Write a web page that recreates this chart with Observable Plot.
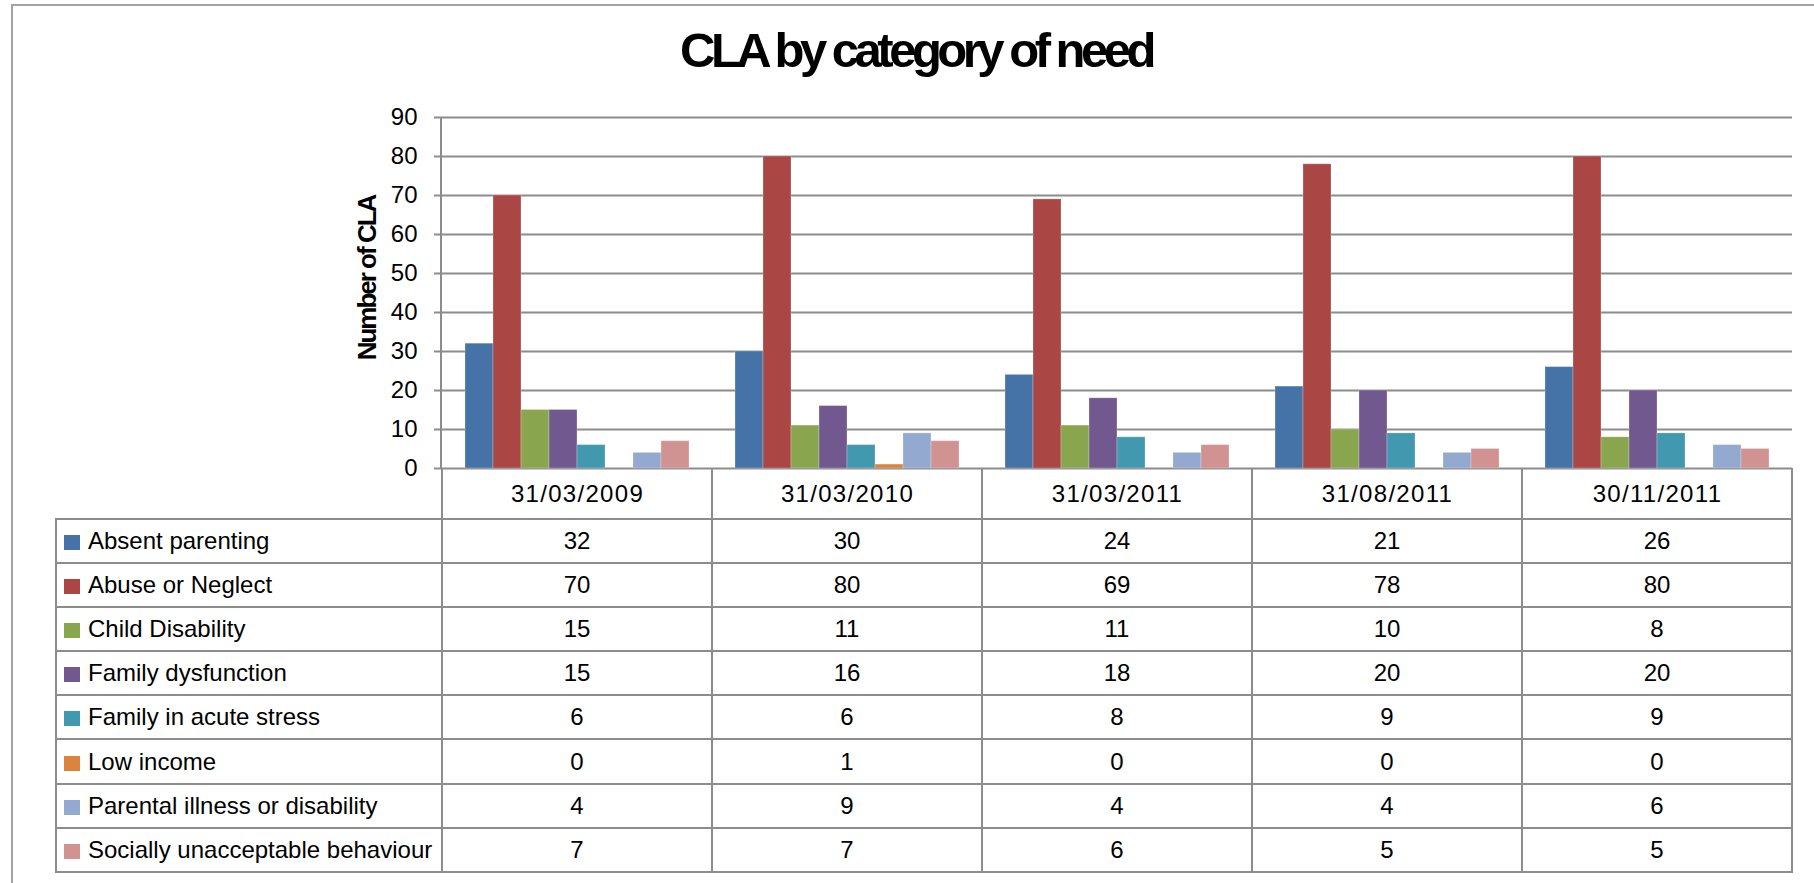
<!DOCTYPE html>
<html>
<head>
<meta charset="utf-8">
<script src="https://cdn.jsdelivr.net/npm/d3@7"></script>
<script src="https://cdn.jsdelivr.net/npm/@observablehq/plot@0.6"></script>
<style>
  html, body { margin: 0; padding: 0; background: #fff; }
  body { width: 1814px; height: 883px; position: relative; overflow: hidden; font-family: "Liberation Sans", Arial, sans-serif; color: #000; }
  #frame { position: absolute; left: 11px; top: 4px; width: 1830px; height: 900px; border-left: 2px solid #a3a3a3; border-top: 2px solid #a3a3a3; }
  #title { position: absolute; left: 0; top: 20px; width: 1832px; text-align: center; font-weight: bold; font-size: 49px; letter-spacing: -4.5px; line-height: 60px; }
  #chart { position: absolute; left: 0; top: 0; }
  #chart g[aria-label="fx-axis tick label"] text { letter-spacing: 1.3px; }
  #ylabel { position: absolute; left: 367px; top: 278px; transform: translate(-50%, -50%) rotate(-90deg); font-weight: bold; font-size: 26px; letter-spacing: -2px; white-space: nowrap; line-height: 26px; }
  #yaxisline { position: absolute; left: 440px; top: 117px; width: 2px; height: 352px; background: #8c8c8c; }
  #datatable { position: absolute; left: 55px; top: 468px; border-collapse: collapse; table-layout: fixed; font-size: 24px; }
  #datatable td { border: 2px solid #8c8c8c; padding: 0; height: 42.2px; text-align: center; white-space: nowrap; overflow: hidden; }
  #datatable tr.head td { height: 49.5px; border-top: none; }
  #datatable tr.head td.blank { border-left: none; }
  #datatable td.lab { text-align: left; padding-left: 7px; }
  .sw { display: inline-block; width: 16px; height: 15px; margin-right: 8px; vertical-align: -1px; }
</style>
</head>
<body>
<div id="frame"></div>
<div id="title">CLA by category of need</div>
<div id="chart"></div>
<div id="yaxisline"></div>
<div id="ylabel">Number of CLA</div>
<table id="datatable"></table>
<script>
// ---- data ----
const dates = ["31/03/2009", "31/03/2010", "31/03/2011", "31/08/2011", "30/11/2011"];
const categories = [
  "Absent parenting",
  "Abuse or Neglect",
  "Child Disability",
  "Family dysfunction",
  "Family in acute stress",
  "Low income",
  "Parental illness or disability",
  "Socially unacceptable behaviour"
];
const absentParenting       = [32, 30, 24, 21, 26];
const abuseOrNeglect        = [70, 80, 69, 78, 80];
const childDisability       = [15, 11, 11, 10, 8];
const familyDysfunction     = [15, 16, 18, 20, 20];
const familyInAcuteStress   = [6, 6, 8, 9, 9];
const lowIncome             = [0, 1, 0, 0, 0];
const parentalIllness       = [4, 9, 4, 4, 6];
const sociallyUnacceptable  = [7, 7, 6, 5, 5];
const yTicks = [0, 10, 20, 30, 40, 50, 60, 70, 80, 90];
const colors = ["#4572A7", "#AA4643", "#89A54E", "#71588F", "#4198AF", "#DB843D", "#93A9CF", "#D19392"];

const series = [absentParenting, abuseOrNeglect, childDisability, familyDysfunction,
                familyInAcuteStress, lowIncome, parentalIllness, sociallyUnacceptable];

const rows = [];
categories.forEach((c, i) => {
  dates.forEach((d, j) => rows.push({category: c, date: d, value: series[i][j]}));
});

// ---- chart ----
const W = 1814, H = 520;
const plot = Plot.plot({
  width: W,
  height: H,
  marginTop: 117,
  marginBottom: 52,
  marginLeft: 441,
  marginRight: 22,
  style: {fontFamily: "'Liberation Sans', Arial, sans-serif", color: "#000", background: "transparent", overflow: "visible"},
  fx: {domain: dates, padding: 0},
  x: {domain: categories, paddingInner: 0, paddingOuter: 0.78, axis: null},
  y: {domain: [0, 90]},
  color: {domain: categories, range: colors},
  marks: [
    Plot.gridY({ticks: yTicks, stroke: "#8c8c8c", strokeOpacity: 1, strokeWidth: 2}),
    Plot.axisY({ticks: yTicks, tickSize: 8, tickPadding: 17, fontSize: 24, stroke: "#8c8c8c", strokeWidth: 2, label: null, fill: "#000"}),
    Plot.barY(rows, {fx: "date", x: "category", y: "value", fill: "category", inset: 0, stroke: "#ffffff", strokeOpacity: 0.25, strokeWidth: 1}),
    Plot.axisFx({anchor: "bottom", tickSize: 0, tickPadding: 16, fontSize: 24, label: null, fill: "#000"})
  ]
});
document.getElementById("chart").appendChild(plot);

// ---- data table (legend) ----
const table = document.getElementById("datatable");
const colgroup = document.createElement("colgroup");
[386, ...dates.map(() => 270)].forEach(w => {
  const col = document.createElement("col");
  col.style.width = w + "px";
  colgroup.appendChild(col);
});
table.appendChild(colgroup);
const head = document.createElement("tr");
head.className = "head";
const blank = document.createElement("td");
blank.className = "blank";
head.appendChild(blank);
dates.forEach(() => head.appendChild(document.createElement("td")));
table.appendChild(head);
categories.forEach((c, i) => {
  const tr = document.createElement("tr");
  const lab = document.createElement("td");
  lab.className = "lab";
  const sw = document.createElement("span");
  sw.className = "sw";
  sw.style.background = colors[i];
  lab.appendChild(sw);
  lab.appendChild(document.createTextNode(c));
  tr.appendChild(lab);
  series[i].forEach(v => {
    const td = document.createElement("td");
    td.textContent = v;
    tr.appendChild(td);
  });
  table.appendChild(tr);
});
</script>
</body>
</html>
